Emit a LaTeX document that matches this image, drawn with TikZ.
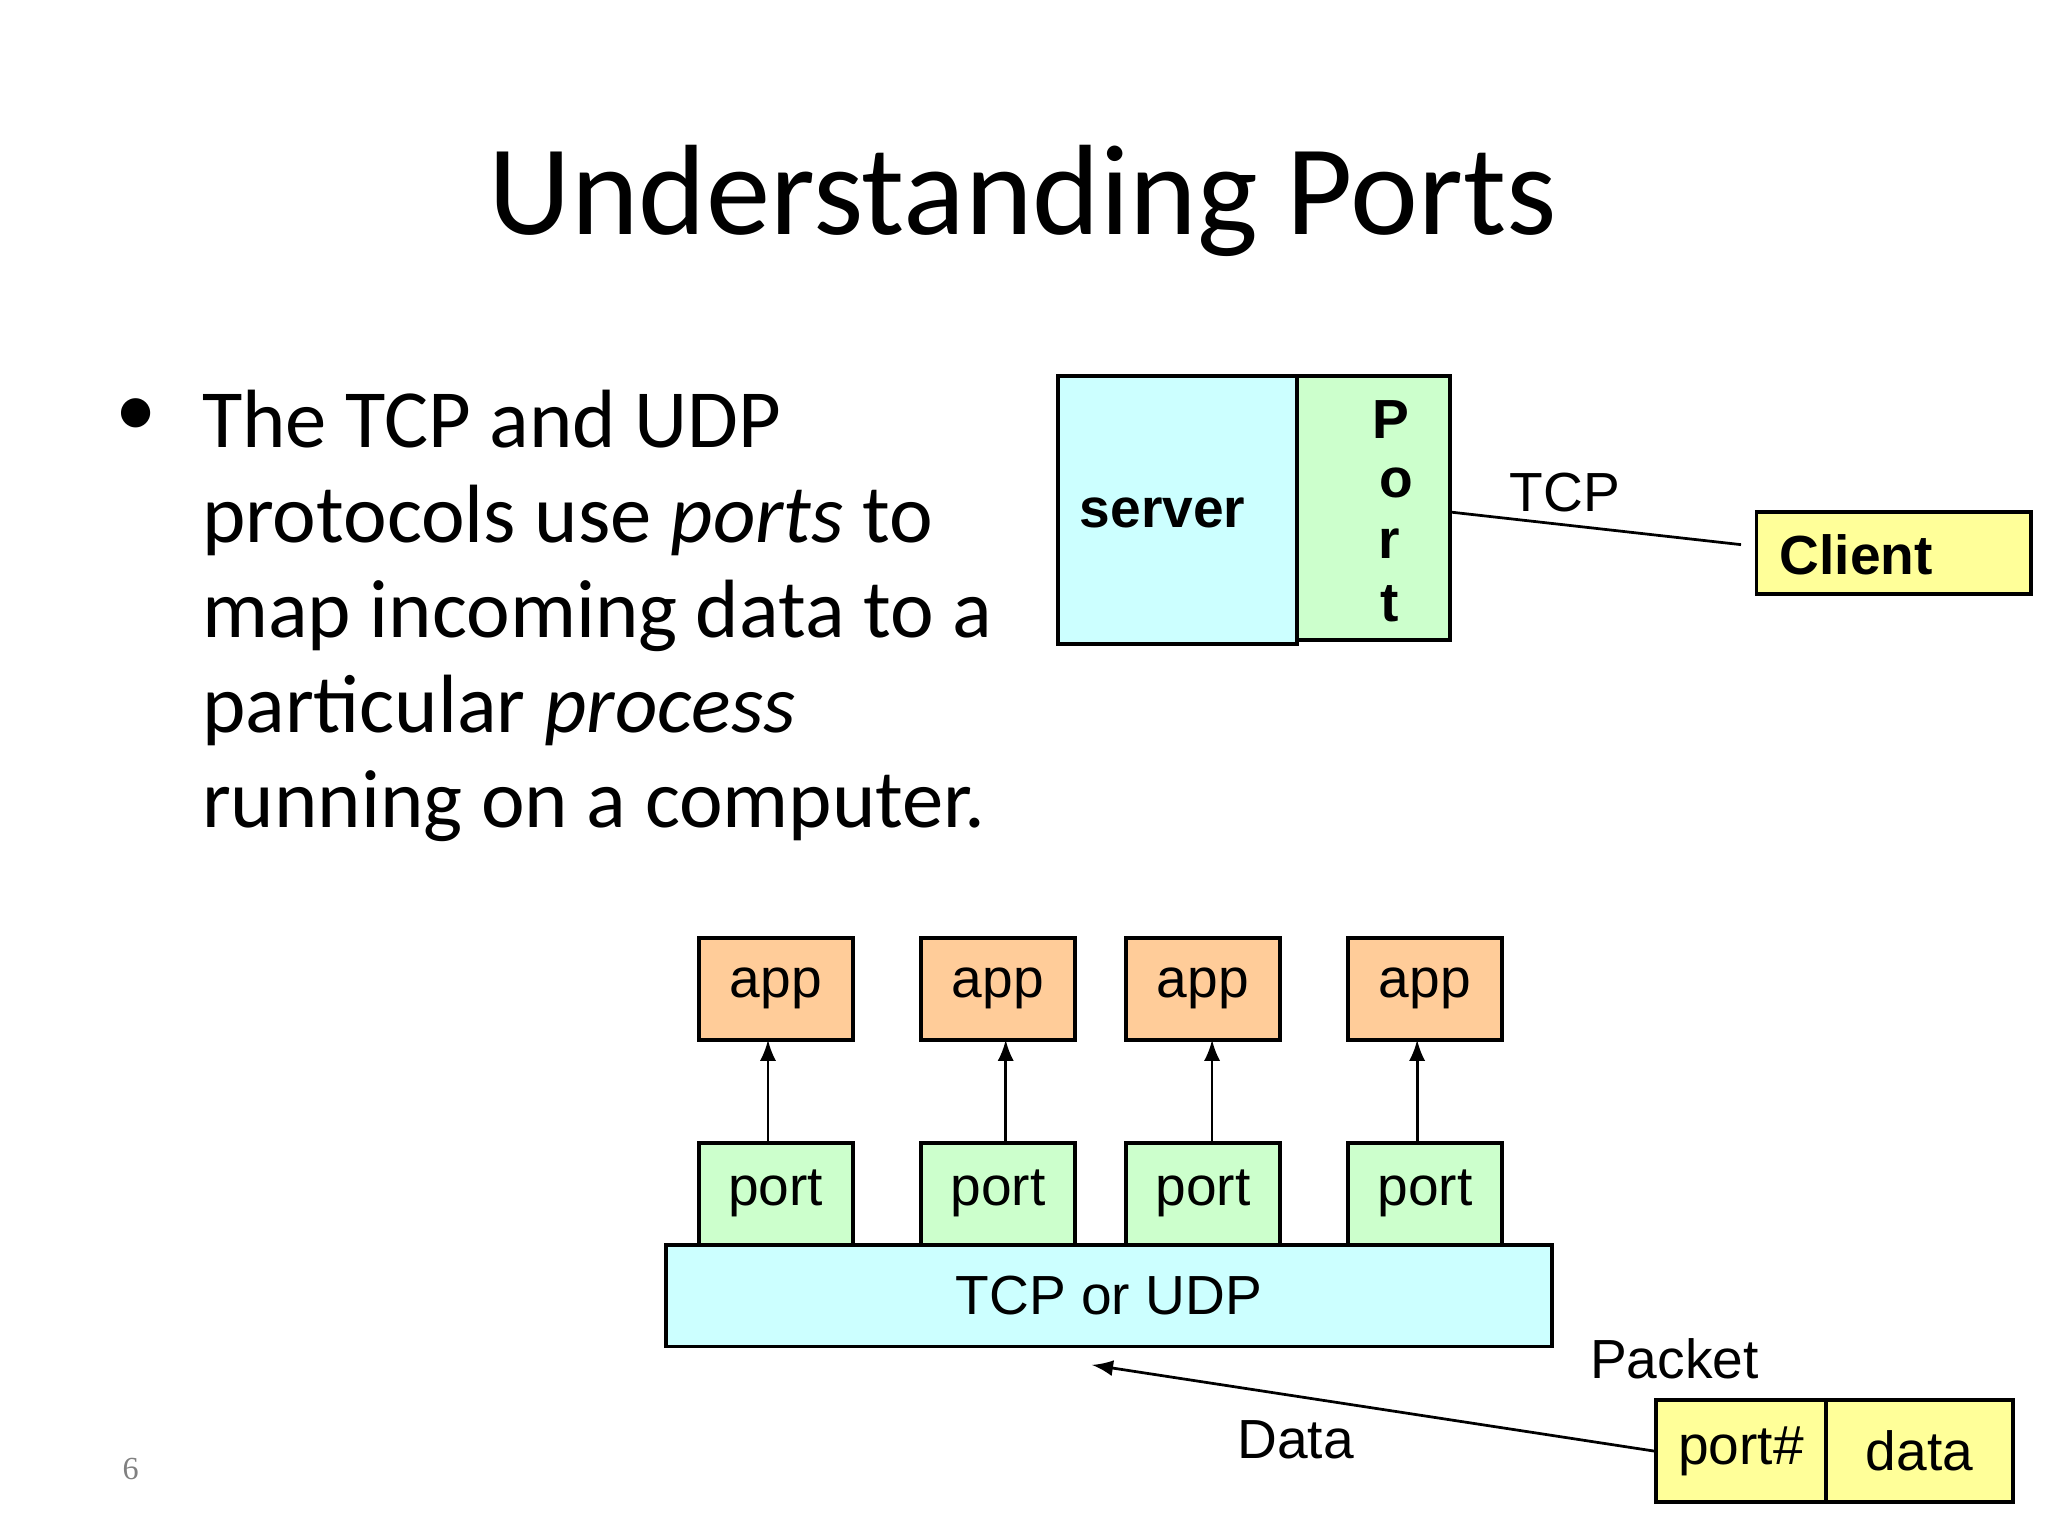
\documentclass[tikz,border=0pt]{standalone}
\usepackage{fontspec}
\setmainfont{Carlito}
\newfontfamily\arial{Liberation Sans}
\newfontfamily\serifpn{Liberation Serif}
\definecolor{cy}{HTML}{CCFFFF}
\definecolor{gr}{HTML}{CCFFCC}
\definecolor{org}{HTML}{FFCC99}
\definecolor{ye}{HTML}{FFFF99}
\begin{document}
\begin{tikzpicture}[x=0.01cm,y=-0.01cm,
  bx/.style={draw=black,line width=0.8pt,inner sep=0pt,minimum width=1.18cm,minimum height=0.78cm,font=\arial\fontsize{12}{12}\selectfont},
  bt/.style={font=\arial\bfseries\fontsize{12}{12}\selectfont},
  ar/.style={-latex,line width=0.6pt}]
\useasboundingbox (0,0) rectangle (1568,1176);
\node[font=\fontsize{28}{34}\selectfont] (title) at (783,154) {Understanding Ports};
\node[anchor=north west,font=\fontsize{18}{20.7}\selectfont,align=left,inner sep=0pt] (txt) at (154,298) {The TCP and UDP\\protocols use \textit{ports} to\\map incoming data to a\\particular \textit{process}\\running on a computer.};
\node[font=\fontsize{18}{20}\selectfont] (dot) at (104,320) {•};
\node[font=\serifpn\fontsize{7}{8}\selectfont,text=gray] (pg) at (100,1125) {6};
% top diagram
\path[fill=cy,draw=black,line width=0.8pt] (810,288) rectangle (993,493);
\node[bt,anchor=west,inner sep=0pt] (srvt) at (826,393) {server};
\path[fill=gr,draw=black,line width=0.8pt] (993,288) rectangle (1110,490);
\node[bt] (p1) at (1065,321) {P};
\node[bt] (p2) at (1069,370) {o};
\node[bt] (p3) at (1064,416) {r};
\node[bt] (p4) at (1064,462) {t};
\coordinate (pe) at (1110,392);
\node[draw=black,line width=0.8pt,fill=ye,minimum width=2.1cm,minimum height=0.63cm,inner sep=0pt] (cl) at (1450,423.5) {};
\node[bt,anchor=west,inner sep=0pt] (clt) at (1362,425) {Client};
\draw[line width=0.6pt] (pe) -- (1333,417);
\node[font=\arial\fontsize{12}{12}\selectfont] (tcp) at (1198,377) {TCP};
% bottom diagram
\foreach \x [count=\i] in {594,764,921,1091}{
  \node[bx,fill=org] (app\i) at (\x,757) {app};
  \node[bx,fill=gr] (port\i) at (\x,914) {port};
}
\draw[ar] (588,875) -- (588,796);
\draw[ar] (770,875) -- (770,796);
\draw[ar] (928,875) -- (928,796);
\draw[ar] (1085,875) -- (1085,796);
\node[bx,fill=cy,minimum width=6.78cm] (tu) at (849,992) {TCP or UDP};
\node[bx,fill=ye,minimum width=1.3cm] (pn) at (1333,1111) {port\#};
\node[bx,fill=ye,minimum width=1.43cm] (dt) at (1469.5,1111) {data};
\node[font=\arial\fontsize{12}{12}\selectfont] (pk) at (1282,1040) {Packet};
\node[font=\arial\fontsize{12}{12}\selectfont] (dl) at (992,1102) {Data};
\coordinate (tgt) at (836,1045);
\draw[ar] (pn.west) -- (tgt);
\end{tikzpicture}
\end{document}
